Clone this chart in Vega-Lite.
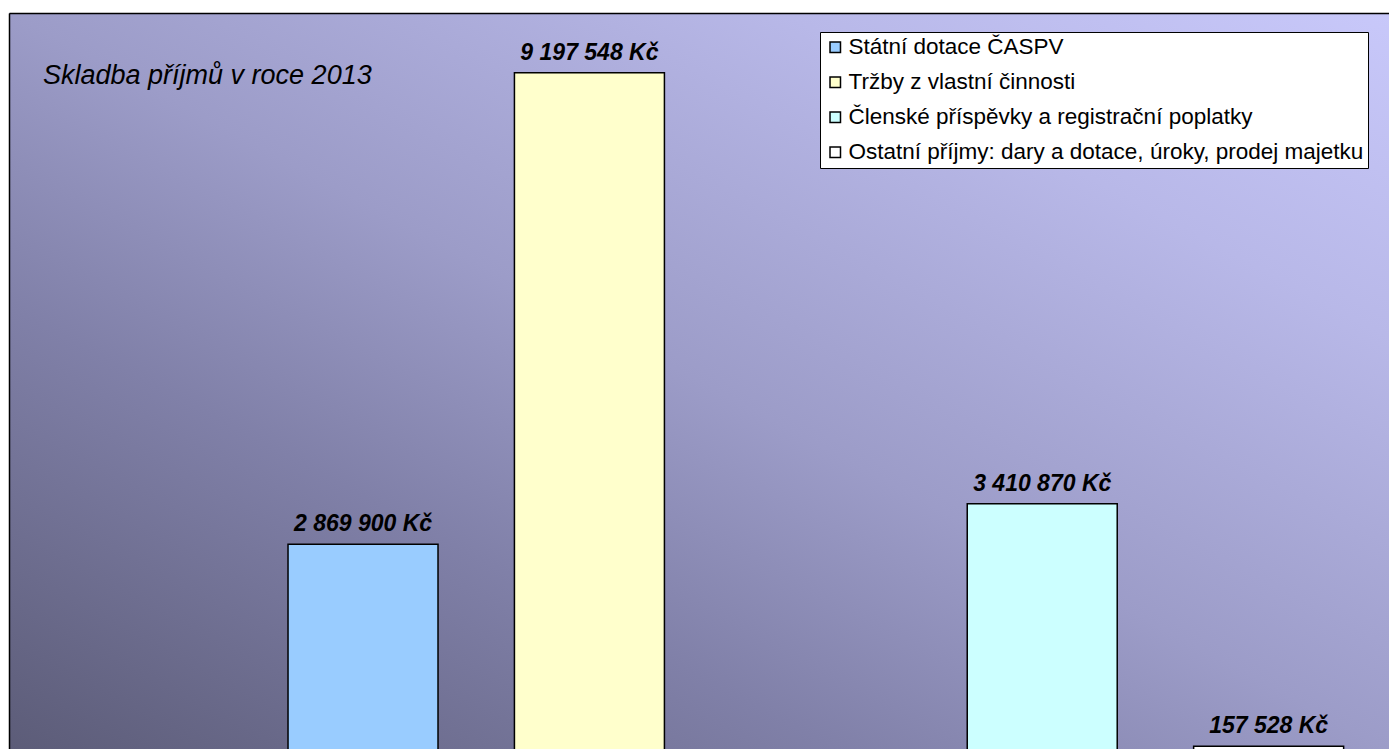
{
  "$schema": "https://vega.github.io/schema/vega-lite/v6.json",
  "width": 1380,
  "height": 736,
  "autosize": {"type": "none"},
  "padding": {"left": 9, "top": 13, "right": 0, "bottom": 0},
  "background": "white",
  "title": {
    "text": "Skladba příjmů v roce 2013",
    "anchor": "start",
    "frame": "group",
    "orient": "top",
    "offset": 0,
    "dx": 34,
    "dy": 98,
    "baseline": "alphabetic",
    "font": "Liberation Sans",
    "fontSize": 27,
    "fontStyle": "italic",
    "fontWeight": "normal",
    "color": "black"
  },
  "data": {
    "values": [
      {"kat": "Státní dotace ČASPV", "hodnota": 2869900},
      {"kat": "Tržby z vlastní činnosti", "hodnota": 9197548},
      {"kat": "Členské příspěvky a registrační poplatky", "hodnota": 3410870},
      {"kat": "Ostatní příjmy: dary a dotace, úroky, prodej majetku", "hodnota": 157528}
    ]
  },
  "encoding": {
    "x": {
      "field": "kat",
      "type": "nominal",
      "sort": null,
      "scale": {
        "domain": [" ", "Státní dotace ČASPV", "Tržby z vlastní činnosti", "  ", "Členské příspěvky a registrační poplatky", "Ostatní příjmy: dary a dotace, úroky, prodej majetku"],
        "paddingInner": 0.3375,
        "paddingOuter": 0.2164,
        "align": 0.537
      },
      "axis": {"orient": "top", "labels": false, "ticks": false, "title": null, "grid": false, "domain": true, "domainColor": "black", "domainWidth": 1.5}
    },
    "y": {
      "field": "hodnota",
      "type": "quantitative",
      "scale": {"domain": [120000, 10000000], "nice": false, "zero": false},
      "axis": {"orient": "left", "labels": false, "ticks": false, "title": null, "grid": false, "domain": true, "domainColor": "black", "domainWidth": 1.5}
    }
  },
  "layer": [
    {
      "mark": {"type": "bar", "clip": true, "stroke": "black", "strokeWidth": 1.5, "opacity": 1},
      "encoding": {
        "y2": {"datum": 0},
        "color": {
          "field": "kat",
          "type": "nominal",
          "sort": null,
          "scale": {
            "domain": ["Státní dotace ČASPV", "Tržby z vlastní činnosti", "Členské příspěvky a registrační poplatky", "Ostatní příjmy: dary a dotace, úroky, prodej majetku"],
            "range": ["#99ccff", "#ffffcc", "#ccffff", "#ffffff"]
          },
          "legend": {
            "title": null,
            "orient": "none",
            "legendX": 811,
            "legendY": 19,
            "fillColor": "white",
            "strokeColor": "black",
            "padding": 4,
            "rowPadding": 12,
            "symbolType": "square",
            "symbolSize": 110,
            "symbolStrokeColor": "black",
            "symbolStrokeWidth": 1.5,
            "symbolOpacity": 1,
            "labelFont": "Liberation Sans",
            "labelFontSize": 22.5,
            "labelColor": "black",
            "labelOffset": 2,
            "labelLimit": 800
          }
        }
      }
    },
    {
      "mark": {
        "type": "text",
        "align": "center",
        "baseline": "alphabetic",
        "dy": -13,
        "font": "Liberation Sans",
        "fontSize": 23,
        "fontStyle": "italic",
        "fontWeight": "bold",
        "color": "black"
      },
      "encoding": {
        "text": {"field": "hodnota", "type": "quantitative", "format": "$,.0f"}
      }
    }
  ],
  "config": {
    "locale": {
      "number": {"decimal": ",", "thousands": " ", "grouping": [3], "currency": ["", " Kč"]}
    },
    "view": {
      "stroke": null,
      "fill": {
        "gradient": "linear",
        "x1": 0, "y1": 1, "x2": 1, "y2": 0,
        "stops": [
          {"offset": 0, "color": "#5c5c78"},
          {"offset": 0.3, "color": "#8080a8"},
          {"offset": 0.5, "color": "#9c9cc8"},
          {"offset": 0.78, "color": "#b8b8e8"},
          {"offset": 1, "color": "#c8c8fa"}
        ]
      }
    }
  }
}
